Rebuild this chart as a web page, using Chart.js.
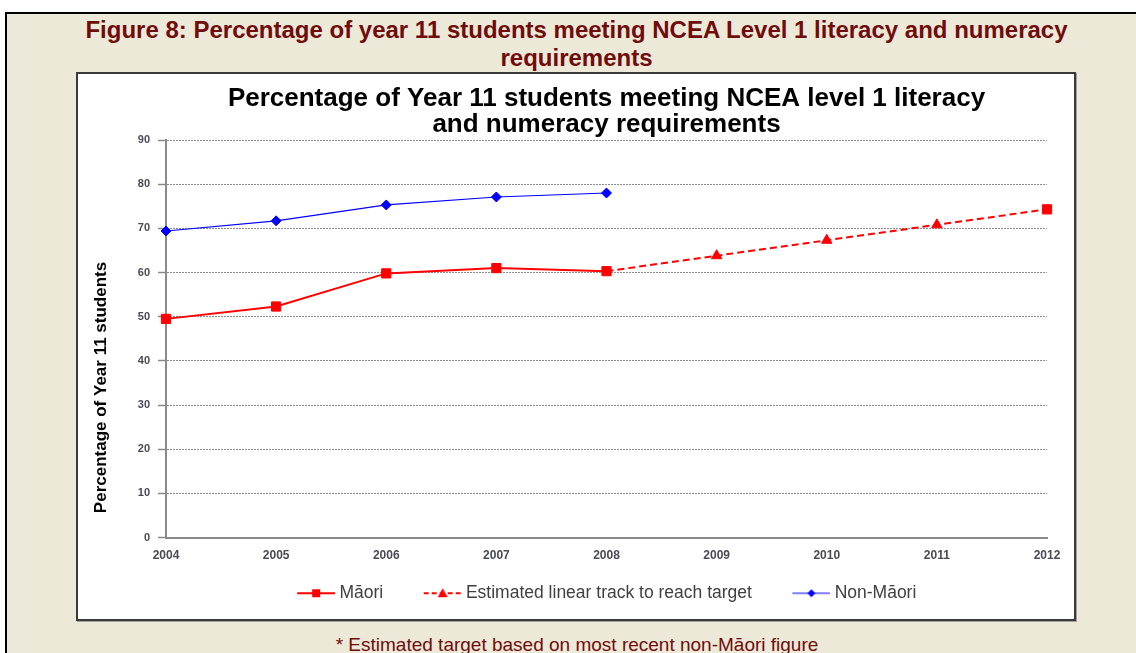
<!DOCTYPE html>
<html>
<head>
    <meta charset="utf-8">
    <title>Figure 8</title>
    <script src="https://cdn.jsdelivr.net/npm/chart.js"></script>
    <style>
        body { margin: 0; width: 1136px; height: 653px; overflow: hidden; background: #fff; font-family: "Liberation Sans", Arial, sans-serif; }
        #panel { position: absolute; left: 5px; top: 12px; width: 1200px; height: 700px; background: #ece9d8; border-left: 2px solid #000; border-top: 2px solid #000; }
        #caption { position: absolute; left: 0; top: 16px; width: 1153px; text-align: center; white-space: nowrap; font-weight: bold; font-size: 24px; line-height: 28px; color: #700c0c; }
        #box { position: absolute; left: 76px; top: 72px; width: 996px; height: 545px; background: #fff; border: 2px solid #3a3a3a; box-shadow: 1px 1px 0 #a0a0a0; }
        #note { position: absolute; left: 0; top: 634px; width: 1154px; text-align: center; white-space: nowrap; font-size: 19px; line-height: 22px; color: #700c0c; }
    </style>
</head>
<body>
    <div id="panel"></div>
    <div id="caption">Figure 8: Percentage of year 11 students meeting NCEA Level 1 literacy and numeracy<br>requirements</div>
    <div id="box"><canvas id="myChart" width="996" height="545"></canvas></div>
    <div id="note">* Estimated target based on most recent non-Māori figure</div>
    <script>
        const years = ['2004', '2005', '2006', '2007', '2008', '2009', '2010', '2011', '2012'];
        const maori = [49.5, 52.3, 59.8, 61.0, 60.3, null, null, null, 74.3];
        const estimatedTrack = [null, null, null, null, 60.3, 63.8, 67.3, 70.8, 74.3];
        const nonMaori = [69.4, 71.7, 75.3, 77.1, 78.0, null, null, null, null];
        const seriesNames = ['Māori', 'Estimated linear track to reach target', 'Non-Māori'];
        const chartTitle = ['Percentage of Year 11 students meeting NCEA level 1 literacy', 'and numeracy requirements'];
        const yAxisTitle = 'Percentage of Year 11 students';
        const yMin = 0, yMax = 90, yStep = 10;

        const fontFamily = '"Liberation Sans", Arial, sans-serif';
        Chart.defaults.font.family = fontFamily;

        // legend pictures: line + marker on the right, blank room on the left to space the items out
        function legendIcon(color, width, dash, shape) {
            const c = document.createElement('canvas');
            c.width = 71;
            c.height = 12;
            const g = c.getContext('2d');
            g.translate(33, 0);
            g.strokeStyle = color;
            g.fillStyle = color;
            g.lineWidth = width;
            g.setLineDash(dash);
            g.beginPath();
            g.moveTo(0, 6);
            g.lineTo(38, 6);
            g.stroke();
            g.setLineDash([]);
            g.beginPath();
            if (shape === 'rect') {
                g.rect(15, 2, 8, 8);
            } else if (shape === 'triangle') {
                g.moveTo(19, 1); g.lineTo(24, 10); g.lineTo(14, 10); g.closePath();
            } else {
                g.moveTo(19, 2); g.lineTo(23, 6); g.lineTo(19, 10); g.lineTo(15, 6); g.closePath();
            }
            g.fill();
            return c;
        }
        const icons = [
            legendIcon('#ff0000', 2, [], 'rect'),
            legendIcon('#ff0000', 2, [5, 3], 'triangle'),
            legendIcon('#0000ff', 1.2, [], 'rectRot')
        ];

        const yTitlePlugin = {
            id: 'yTitle',
            afterDraw(chart) {
                const ctx = chart.ctx;
                ctx.save();
                ctx.translate(23, chart.chartArea.bottom - 150);
                ctx.rotate(-Math.PI / 2);
                ctx.font = 'bold 17px ' + fontFamily;
                ctx.fillStyle = '#000';
                ctx.textAlign = 'center';
                ctx.textBaseline = 'middle';
                ctx.fillText(yAxisTitle, 0, 0);
                ctx.restore();
            }
        };

        // nudge the legend row a little to the left, like the original
        const legendShift = {
            id: 'legendShift',
            afterLayout(chart) {
                chart.legend.left -= 14;
                chart.legend.right -= 14;
            }
        };

        const ctx = document.getElementById('myChart').getContext('2d');
        new Chart(ctx, {
            type: 'line',
            data: {
                labels: years,
                datasets: [{
                    label: seriesNames[0],
                    data: maori,
                    borderColor: '#ff0000',
                    backgroundColor: '#ff0000',
                    borderWidth: 2,
                    pointStyle: 'rect',
                    pointRadius: 6.5,
                    pointBorderWidth: 1,
                    spanGaps: false,
                    clip: false
                }, {
                    label: seriesNames[1],
                    data: estimatedTrack,
                    borderColor: '#ff0000',
                    backgroundColor: '#ff0000',
                    borderWidth: 2,
                    borderDash: [7, 4],
                    pointStyle: 'triangle',
                    pointRadius: [0, 0, 0, 0, 0, 6, 6, 6, 0],
                    pointBorderWidth: 1,
                    clip: false
                }, {
                    label: seriesNames[2],
                    data: nonMaori,
                    borderColor: '#0000ff',
                    backgroundColor: '#0000ff',
                    borderWidth: 1.2,
                    pointStyle: 'rectRot',
                    pointRadius: 5,
                    pointBorderWidth: 1,
                    clip: false
                }]
            },
            options: {
                responsive: false,
                animation: false,
                devicePixelRatio: 1,
                layout: { padding: { left: 0, right: 27, top: 0, bottom: 7 } },
                plugins: {
                    tooltip: { enabled: false },
                    title: {
                        display: true,
                        fullSize: false,
                        text: chartTitle,
                        color: '#000',
                        font: { size: 26, weight: 'bold', lineHeight: 1.0 },
                        padding: { top: 11.5, bottom: 2.5 }
                    },
                    legend: {
                        position: 'bottom',
                        fullSize: false,
                        labels: {
                            usePointStyle: true,
                            pointStyleWidth: 62,
                            padding: 12,
                            color: '#404040',
                            font: { size: 17.5 },
                            generateLabels(chart) {
                                const items = Chart.defaults.plugins.legend.labels.generateLabels(chart);
                                return items.map((item, i) => Object.assign(item, { pointStyle: icons[i] }));
                            }
                        }
                    }
                },
                scales: {
                    x: {
                        grid: { display: false, drawTicks: false },
                        border: { display: true, color: '#8a8a8a', width: 2 },
                        ticks: { color: '#4a4a58', padding: 11, font: { size: 12, weight: 'bold' }, maxRotation: 0 },
                        afterFit(scale) { scale.height = 35; }
                    },
                    y: {
                        min: yMin,
                        max: yMax,
                        ticks: { stepSize: yStep, color: '#4a4a58', padding: 8, font: { size: 11, weight: 'bold' } },
                        grid: { color: '#8c8c8c', lineWidth: 1, tickLength: 8, tickColor: '#8a8a8a', tickWidth: 1.5 },
                        border: { display: true, color: '#8a8a8a', width: 2, dash: [2, 1] },
                        afterFit(scale) { scale.width = 88; }
                    }
                }
            },
            plugins: [yTitlePlugin, legendShift]
        });
    </script>
</body>
</html>
